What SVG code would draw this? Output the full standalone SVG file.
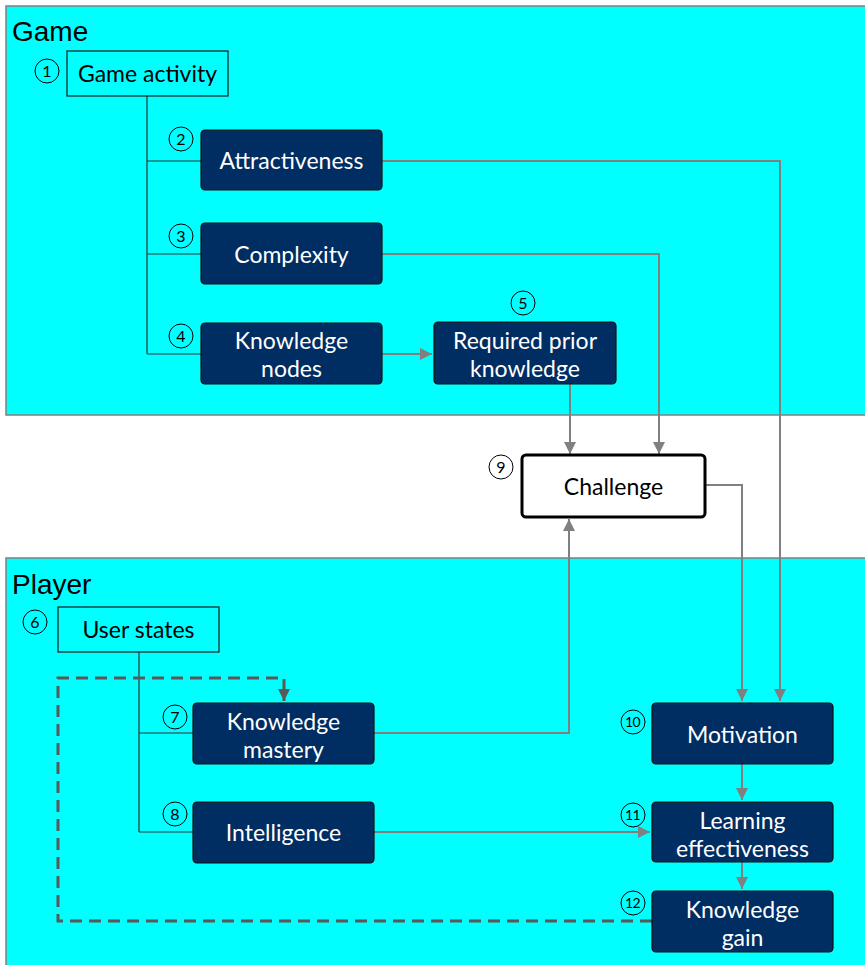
<svg xmlns="http://www.w3.org/2000/svg" width="865" height="965" viewBox="0 0 865 965">
<defs>
<style>
.panel{fill:#00FFFF;stroke:#7f7f7f;stroke-width:1.5}
.plabel{font-family:"Liberation Sans",Arial,sans-serif;font-size:28px;fill:#000}
.root{fill:none;stroke:#1a1a1a;stroke-width:1.2}
.node{fill:#002D62;stroke:#111;stroke-width:1.2}
.t{font-family:Lato,"Open Sans",sans-serif;font-size:23px;text-anchor:middle}
.tw{fill:#fff}
.tb{fill:#000}
.num{fill:none;stroke:#000;stroke-width:1}
.nt{font-family:Lato,"Open Sans",sans-serif;font-size:16px;text-anchor:middle;fill:#000}
.nt2{font-family:Lato,"Open Sans",sans-serif;font-size:14px;text-anchor:middle;fill:#000;letter-spacing:-0.5px}
.tree{fill:none;stroke:#333;stroke-width:1.2}
.conn{fill:none;stroke:#808080;stroke-width:2}
.dash{fill:none;stroke:#595959;stroke-width:3;stroke-dasharray:12,7}
</style>
<marker id="ah" viewBox="0 0 10 10" refX="10" refY="5" markerWidth="6" markerHeight="6" orient="auto" markerUnits="strokeWidth">
<path d="M0,0 L10,5 L0,10 z" fill="#808080"/>
</marker>
<marker id="ahd" viewBox="0 0 10 10" refX="10" refY="5" markerWidth="4" markerHeight="4" orient="auto" markerUnits="strokeWidth">
<path d="M0,0 L10,5 L0,10 z" fill="#595959"/>
</marker>
</defs>
<rect width="865" height="965" fill="#fff"/>
<g id="panel-game">
<rect class="panel" x="6" y="6" width="875" height="409"/>
<text class="plabel" x="12" y="41">Game</text>
</g>
<g id="panel-player">
<rect class="panel" x="6" y="558" width="875" height="420"/>
<text class="plabel" x="12" y="594">Player</text>
</g>
<g id="connectors">
<path class="tree" d="M147,96 V354 M147,161 H201 M147,254 H201 M147,354 H201"/>
<path class="tree" d="M139,652 V832 M139,733 H193 M139,832 H193"/>
<path class="conn" d="M382,354 H432" marker-end="url(#ah)"/>
<path class="conn" d="M570,384 V454" marker-end="url(#ah)"/>
<path class="conn" d="M382,254 H659 V454" marker-end="url(#ah)"/>
<path class="conn" d="M382,161 H780 V701" marker-end="url(#ah)"/>
<path class="conn" d="M705,485 H742 V701" marker-end="url(#ah)"/>
<path class="conn" d="M374,733 H569 V519" marker-end="url(#ah)"/>
<path class="conn" d="M742,764 V800" marker-end="url(#ah)"/>
<path class="conn" d="M742,862 V889" marker-end="url(#ah)"/>
<path class="conn" d="M374,832 H650" marker-end="url(#ah)"/>
<path class="dash" d="M652,921 H58 V678 H284 V701" marker-end="url(#ahd)"/>
</g>
<g id="n1">
<rect class="root" x="67" y="51" width="161" height="45"/>
<text class="t tb" x="147.5" y="82">Game activity</text>
<circle class="num" cx="47" cy="71" r="12"/><text class="nt" x="47" y="77">1</text>
</g>
<g id="n2">
<rect class="node" x="201" y="130" width="181" height="60" rx="4"/>
<text class="t tw" x="291.5" y="169">Attractiveness</text>
<circle class="num" cx="181" cy="139" r="12"/><text class="nt" x="181" y="145">2</text>
</g>
<g id="n3">
<rect class="node" x="201" y="223" width="181" height="61" rx="4"/>
<text class="t tw" x="291.5" y="263">Complexity</text>
<circle class="num" cx="181" cy="236" r="12"/><text class="nt" x="181" y="242">3</text>
</g>
<g id="n4">
<rect class="node" x="201" y="323" width="181" height="61" rx="4"/>
<text class="t tw" x="291.5" y="349">Knowledge</text>
<text class="t tw" x="291.5" y="377">nodes</text>
<circle class="num" cx="181" cy="336" r="12"/><text class="nt" x="181" y="342">4</text>
</g>
<g id="n5">
<rect class="node" x="434" y="322" width="182" height="62" rx="4"/>
<text class="t tw" x="525" y="349">Required prior</text>
<text class="t tw" x="525" y="377">knowledge</text>
<circle class="num" cx="523" cy="303" r="12"/><text class="nt" x="523" y="309">5</text>
</g>
<g id="n9">
<rect x="522" y="455" width="183" height="62" rx="4" fill="#fff" stroke="#000" stroke-width="3"/>
<text class="t tb" x="613.5" y="495">Challenge</text>
<circle class="num" cx="501" cy="467" r="12"/><text class="nt" x="501" y="473">9</text>
</g>
<g id="n6">
<rect class="root" x="58" y="607" width="161" height="45"/>
<text class="t tb" x="138.5" y="638">User states</text>
<circle class="num" cx="35" cy="622" r="12"/><text class="nt" x="35" y="628">6</text>
</g>
<g id="n7">
<rect class="node" x="193" y="703" width="181" height="61" rx="4"/>
<text class="t tw" x="283.5" y="730">Knowledge</text>
<text class="t tw" x="283.5" y="758">mastery</text>
<circle class="num" cx="175" cy="717" r="12"/><text class="nt" x="175" y="723">7</text>
</g>
<g id="n8">
<rect class="node" x="193" y="802" width="181" height="61" rx="4"/>
<text class="t tw" x="283.5" y="841">Intelligence</text>
<circle class="num" cx="175" cy="814" r="12"/><text class="nt" x="175" y="820">8</text>
</g>
<g id="n10">
<rect class="node" x="652" y="703" width="181" height="61" rx="4"/>
<text class="t tw" x="742.5" y="743">Motivation</text>
<circle class="num" cx="633" cy="722" r="12"/><text class="nt2" x="632.5" y="727">10</text>
</g>
<g id="n11">
<rect class="node" x="652" y="802" width="181" height="60" rx="4"/>
<text class="t tw" x="742.5" y="829">Learning</text>
<text class="t tw" x="742.5" y="857">effectiveness</text>
<circle class="num" cx="633" cy="815" r="12"/><text class="nt2" x="632.5" y="820">11</text>
</g>
<g id="n12">
<rect class="node" x="652" y="891" width="181" height="61" rx="4"/>
<text class="t tw" x="742.5" y="918">Knowledge</text>
<text class="t tw" x="742.5" y="946">gain</text>
<circle class="num" cx="633" cy="903" r="12"/><text class="nt2" x="632.5" y="908">12</text>
</g>
</svg>
